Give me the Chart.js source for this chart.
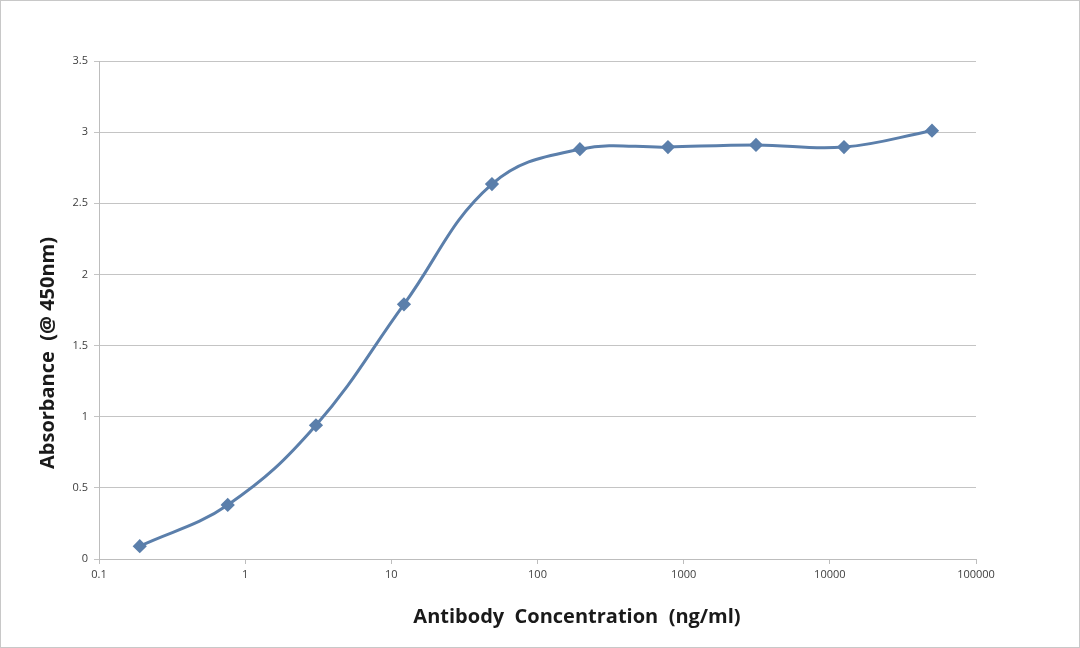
<!DOCTYPE html>
<html>
<head>
<meta charset="utf-8">
<script src="https://cdn.jsdelivr.net/npm/chart.js@4.4.0/dist/chart.umd.min.js"></script>
<style>
  html, body { margin: 0; padding: 0; background: #fff; }
  #wrap { width: 1080px; height: 648px; position: relative; }
</style>
</head>
<body>
<div id="wrap"><canvas id="chart1"></canvas></div>
<script>
var concentrations = [0.19, 0.76, 3.05, 12.2, 48.8, 195, 781, 3125, 12500, 50000];
var absorbance = [0.09, 0.38, 0.94, 1.79, 2.635, 2.88, 2.895, 2.91, 2.895, 3.01];
var xTicks = [0.1, 1, 10, 100, 1000, 10000, 100000];
var yTicks = [0, 0.5, 1, 1.5, 2, 2.5, 3, 3.5];
var xTitle = 'Antibody  Concentration  (ng/ml)';
var yTitle = 'Absorbance  (@ 450nm)';

var points = concentrations.map(function (c, i) {
    return { x: c, y: absorbance[i] };
});

// page border and the two axis titles (placed like in the Excel original)
var frame = {
    id: 'frame',
    afterDraw: function (chart) {
        var ctx = chart.ctx;
        ctx.save();
        ctx.strokeStyle = '#c8c8c8';
        ctx.lineWidth = 1;
        ctx.strokeRect(0.5, 0.5, chart.width - 1, chart.height - 1);

        ctx.fillStyle = '#1a1a1a';
        ctx.font = 'bold 20px "Open Sans"';
        ctx.textAlign = 'center';
        ctx.textBaseline = 'middle';
        ctx.fillText(xTitle, 577, 617);

        ctx.translate(48, 353);
        ctx.rotate(-Math.PI / 2);
        ctx.fillText(yTitle, 0, 0);
        ctx.restore();
    }
};

window.onload = function () {
    var ctx1 = document.getElementById('chart1').getContext('2d');

    window.theChart1 = new Chart(ctx1, {
        type: 'line',
        data: {
            datasets: [{
                data: points,
                borderColor: '#5b7fab',
                backgroundColor: '#5b7fab',
                borderWidth: 3,
                pointStyle: 'rectRot',
                pointRadius: 5,
                pointHoverRadius: 5,
                tension: 0.4,
                fill: false
            }]
        },
        plugins: [frame],
        options: {
            responsive: true,
            maintainAspectRatio: false,
            animation: false,
            layout: { padding: { left: 0, right: 104, top: 61, bottom: 0 } },
            plugins: {
                legend: { display: false },
                tooltip: { enabled: false }
            },
            scales: {
                x: {
                    type: 'logarithmic',
                    min: 0.1,
                    max: 100000,
                    afterBuildTicks: function (scale) {
                        scale.ticks = xTicks.map(function (v) { return { value: v }; });
                    },
                    afterFit: function (scale) { scale.height = 89; },
                    grid: {
                        drawOnChartArea: false,
                        color: '#bdbdbd',
                        tickLength: 5
                    },
                    border: { color: '#bdbdbd' },
                    ticks: {
                        autoSkip: false,
                        maxRotation: 0,
                        padding: 4,
                        color: '#404040',
                        font: { family: 'Open Sans', size: 11 },
                        callback: function (v) { return String(v); }
                    }
                },
                y: {
                    min: 0,
                    max: 3.5,
                    afterBuildTicks: function (scale) {
                        scale.ticks = yTicks.map(function (v) { return { value: v }; });
                    },
                    afterFit: function (scale) { scale.width = 99; },
                    grid: {
                        color: '#c4c4c4',
                        tickLength: 5
                    },
                    border: { color: '#bdbdbd' },
                    ticks: {
                        padding: 6,
                        color: '#404040',
                        font: { family: 'Open Sans', size: 11 },
                        callback: function (v) { return String(v); }
                    }
                }
            }
        }
    });
};
</script>
</body>
</html>
